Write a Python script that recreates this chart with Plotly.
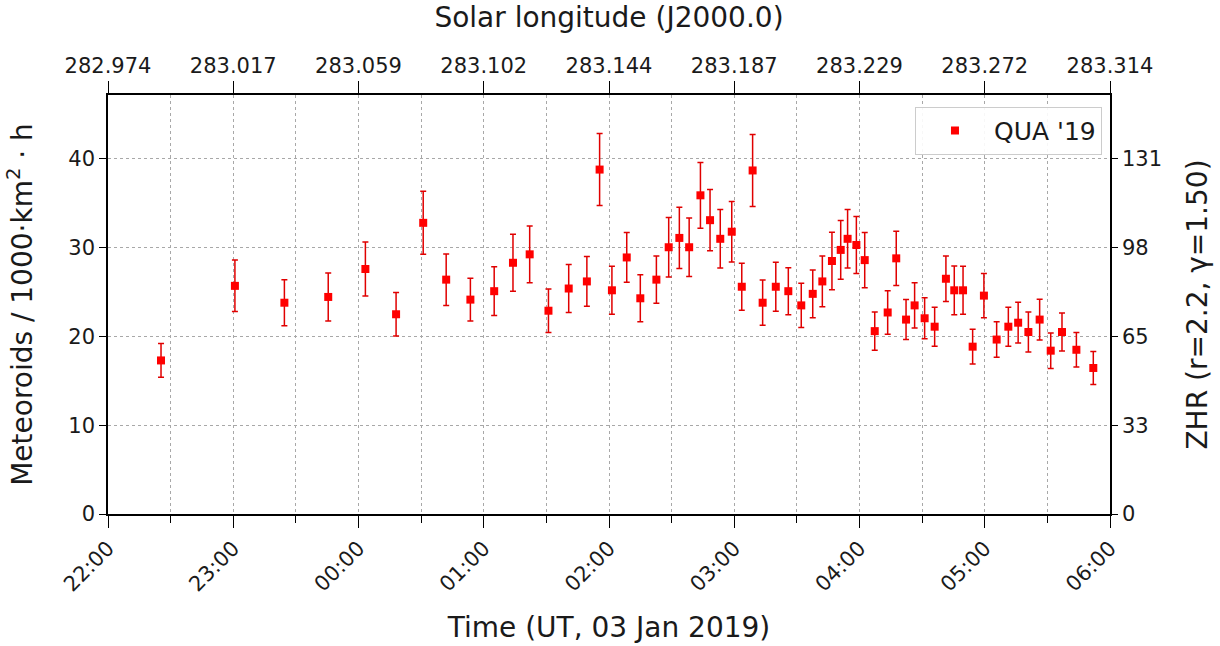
import plotly.graph_objects as go

# ---- data ----
times = [
    "2019-01-03 22:25:24", "2019-01-03 23:00:48", "2019-01-03 23:24:30", "2019-01-03 23:45:30",
    "2019-01-04 00:03:18", "2019-01-04 00:18:00", "2019-01-04 00:31:00", "2019-01-04 00:42:00",
    "2019-01-04 00:53:36", "2019-01-04 01:05:00", "2019-01-04 01:14:00", "2019-01-04 01:22:00",
    "2019-01-04 01:31:00", "2019-01-04 01:40:42", "2019-01-04 01:49:24", "2019-01-04 01:55:30",
    "2019-01-04 02:01:24", "2019-01-04 02:08:30", "2019-01-04 02:15:00", "2019-01-04 02:22:42",
    "2019-01-04 02:28:36", "2019-01-04 02:33:42", "2019-01-04 02:38:24", "2019-01-04 02:43:48",
    "2019-01-04 02:48:24", "2019-01-04 02:53:18", "2019-01-04 02:58:48", "2019-01-04 03:03:36",
    "2019-01-04 03:08:48", "2019-01-04 03:13:36", "2019-01-04 03:19:54", "2019-01-04 03:25:54",
    "2019-01-04 03:32:06", "2019-01-04 03:37:36", "2019-01-04 03:42:12", "2019-01-04 03:46:48",
    "2019-01-04 03:51:00", "2019-01-04 03:54:18", "2019-01-04 03:58:30", "2019-01-04 04:02:30",
    "2019-01-04 04:07:18", "2019-01-04 04:13:30", "2019-01-04 04:17:36", "2019-01-04 04:22:18",
    "2019-01-04 04:26:24", "2019-01-04 04:31:12", "2019-01-04 04:36:00", "2019-01-04 04:41:24",
    "2019-01-04 04:45:24", "2019-01-04 04:49:36", "2019-01-04 04:54:12", "2019-01-04 04:59:36",
    "2019-01-04 05:05:42", "2019-01-04 05:11:18", "2019-01-04 05:16:00", "2019-01-04 05:20:54",
    "2019-01-04 05:26:18", "2019-01-04 05:31:36", "2019-01-04 05:37:00", "2019-01-04 05:43:54",
    "2019-01-04 05:52:00",
]
flux = [
    17.3, 25.7, 23.8, 24.45, 27.6, 22.5, 32.8, 26.4,
    24.15, 25.1, 28.3, 29.25, 22.9, 25.4, 26.2, 38.8,
    25.2, 28.9, 24.3, 26.4, 30.05, 31.1, 30.05, 35.9,
    33.1, 31.0, 31.8, 25.6, 38.7, 23.8, 25.6, 25.1,
    23.5, 24.8, 26.2, 28.5, 29.75, 31.0, 30.3, 28.6,
    20.6, 22.7, 28.8, 21.9, 23.5, 22.05, 21.1, 26.5,
    25.2, 25.2, 18.85, 24.6, 19.65, 21.1, 21.55, 20.5,
    21.9, 18.4, 20.5, 18.5, 16.45,
]
flux_err = [
    1.9, 2.9, 2.6, 2.7, 3.05, 2.45, 3.55, 2.9,
    2.4, 2.75, 3.2, 3.2, 2.45, 2.7, 2.8, 4.05,
    2.7, 2.8, 2.65, 2.65, 3.35, 3.45, 3.3, 3.7,
    3.45, 3.3, 3.4, 2.65, 4.05, 2.55, 2.75, 2.65,
    2.5, 2.7, 2.85, 3.25, 3.3, 3.3, 3.2, 3.1,
    2.15, 2.45, 3.05, 2.25, 2.55, 2.3, 2.2, 2.55,
    2.75, 2.7, 1.95, 2.5, 2.0, 2.2, 2.3, 2.25,
    2.3, 2.0, 2.15, 1.95, 1.85,
]
series_name = "QUA '19"

hour_ticks = [
    "2019-01-03 22:00", "2019-01-03 23:00", "2019-01-04 00:00", "2019-01-04 01:00",
    "2019-01-04 02:00", "2019-01-04 03:00", "2019-01-04 04:00", "2019-01-04 05:00",
    "2019-01-04 06:00",
]
solar_longitude_labels = [
    "282.974", "283.017", "283.059", "283.102", "283.144",
    "283.187", "283.229", "283.272", "283.314",
]
flux_ticks = [0, 10, 20, 30, 40]
zhr_tick_labels = ["0", "33", "65", "98", "131"]

x_range = ["2019-01-03 22:00", "2019-01-04 06:00"]
y_range = [0, 47.2]

FONT = "DejaVu Sans, Liberation Sans, sans-serif"
GRID = "#a8a8a8"
TICK_SIZE = 21
TITLE_SIZE = 28

fig = go.Figure()
fig.add_trace(go.Scatter(
    x=times, y=flux, mode="markers", name=series_name,
    marker=dict(symbol="square", size=8, color="#ff0000"),
    error_y=dict(type="data", array=flux_err, visible=True,
                 color="#e00000", thickness=1.5, width=3),
))
# invisible companion trace so the top / right axes are drawn
fig.add_trace(go.Scatter(
    x=times, y=flux, mode="markers", xaxis="x2", yaxis="y2",
    marker=dict(opacity=0), showlegend=False, hoverinfo="skip",
))

fig.update_layout(
    width=1220, height=646,
    margin=dict(l=108, r=110, t=95, b=132, autoexpand=False),
    paper_bgcolor="white", plot_bgcolor="white",
    font=dict(family=FONT, color="#1a1a1a", size=TICK_SIZE),
    showlegend=True,
    legend=dict(x=0.992, y=0.972, xanchor="right", yanchor="top",
                bgcolor="rgba(255,255,255,0.9)", bordercolor="#cccccc", borderwidth=1,
                font=dict(size=25), itemwidth=68),
    xaxis=dict(
        type="date", range=x_range, automargin=False,
        tick0=x_range[0], dtick=3600000, tickformat="%H:%M", tickangle=-45,
        ticks="outside", ticklen=12, tickwidth=1.2, tickcolor="black",
        showline=True, linecolor="black", linewidth=1.5,
        showgrid=True, gridcolor=GRID, griddash="dot", gridwidth=1,
        minor=dict(dtick=1800000, tick0=x_range[0], ticks="outside", ticklen=7,
                   tickwidth=1, tickcolor="black", showgrid=True, gridcolor=GRID,
                   griddash="dot", gridwidth=1),
        zeroline=False,
        title=dict(text="Time (UT, 03 Jan 2019)", font=dict(size=TITLE_SIZE), standoff=22),
        tickfont=dict(size=TICK_SIZE),
    ),
    xaxis2=dict(
        type="date", range=x_range, overlaying="x", side="top", anchor="y", automargin=False,
        tickmode="array", tickvals=hour_ticks, ticktext=solar_longitude_labels,
        ticks="outside", ticklen=12, tickwidth=1.2, tickcolor="black",
        showline=True, linecolor="black", linewidth=1.5,
        showgrid=False, zeroline=False,
        title=dict(text="Solar longitude (J2000.0)", font=dict(size=TITLE_SIZE), standoff=18),
        tickfont=dict(size=TICK_SIZE),
    ),
    yaxis=dict(
        range=y_range, tickmode="array", tickvals=flux_ticks, automargin=False,
        ticks="outside", ticklen=7, tickwidth=1.2, tickcolor="black",
        showline=True, linecolor="black", linewidth=1.5,
        showgrid=True, gridcolor=GRID, griddash="dot", gridwidth=1,
        zeroline=False,
        title=dict(text="Meteoroids / 1000·km<sup>2</sup> · h", font=dict(size=TITLE_SIZE), standoff=28),
        tickfont=dict(size=TICK_SIZE),
    ),
    yaxis2=dict(
        range=y_range, overlaying="y", side="right", anchor="x", automargin=False,
        tickmode="array", tickvals=flux_ticks, ticktext=zhr_tick_labels,
        ticks="outside", ticklen=6, tickwidth=1.2, tickcolor="black",
        showline=True, linecolor="black", linewidth=1.5,
        showgrid=False, zeroline=False,
        title=dict(text="ZHR (r=2.2, γ=1.50)", font=dict(size=TITLE_SIZE), standoff=26),
        tickfont=dict(size=TICK_SIZE),
    ),
)

fig.write_html("out.html")
